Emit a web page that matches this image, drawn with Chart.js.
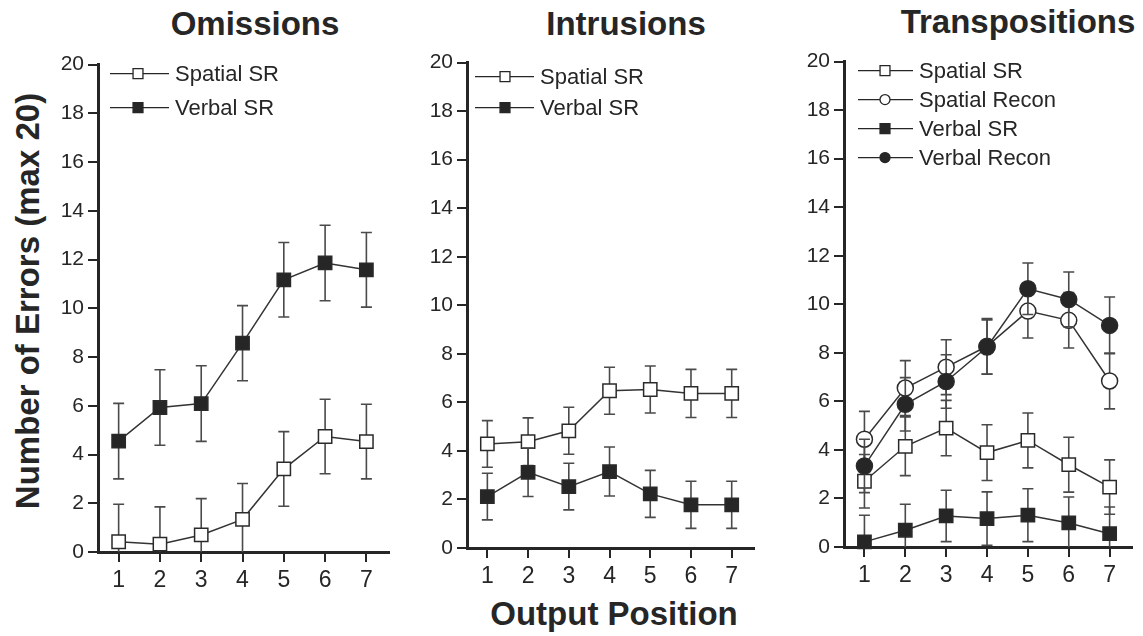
<!DOCTYPE html>
<html>
<head>
<meta charset="utf-8">
<script src="https://cdn.jsdelivr.net/npm/chart.js@4.4.0/dist/chart.umd.min.js"></script>
<style>
  body { margin: 0; background: #fff; width: 1143px; height: 636px; position: relative; overflow: hidden; }
  .title { position: absolute; font: bold 33px "Liberation Sans", Arial, sans-serif; color: #262626;
           line-height: 33px; white-space: nowrap; transform: translateX(-50%); }
  #ytitle { position: absolute; left: 28px; top: 301px; font: bold 33px "Liberation Sans", Arial, sans-serif;
            color: #262626; white-space: nowrap; transform: translate(-50%, -50%) rotate(-90deg); }
  canvas { position: absolute; }
</style>
</head>
<body>
<div class="title" style="left:255px; top:7px;">Omissions</div>
<div class="title" style="left:626px; top:7px;">Intrusions</div>
<div class="title" style="left:1018px; top:5px;">Transpositions</div>
<div id="ytitle">Number of Errors (max 20)</div>
<div class="title" style="left:614px; top:597px;">Output Position</div>

<canvas id="omissions" width="362" height="554" style="left:38px; top:48px;"></canvas>
<canvas id="intrusions" width="358" height="552" style="left:407px; top:46px;"></canvas>
<canvas id="transpositions" width="359" height="552" style="left:784px; top:45px;"></canvas>

<script>
const positions = [1, 2, 3, 4, 5, 6, 7];

// Omissions
const omSpatialSR = [0.42, 0.32, 0.7, 1.34, 3.41, 4.74, 4.53];
const omSpatialSRErr = [1.54, 1.53, 1.49, 1.47, 1.53, 1.53, 1.53];
const omVerbalSR = [4.55, 5.93, 6.09, 8.57, 11.17, 11.86, 11.58];
const omVerbalSRErr = [1.55, 1.55, 1.55, 1.54, 1.53, 1.55, 1.53];

// Intrusions
const inSpatialSR = [4.29, 4.38, 4.83, 6.48, 6.53, 6.37, 6.37];
const inSpatialSRErr = [0.96, 0.98, 0.97, 0.97, 0.97, 0.99, 0.99];
const inVerbalSR = [2.12, 3.12, 2.53, 3.15, 2.23, 1.78, 1.78];
const inVerbalSRErr = [0.96, 1.0, 0.96, 1.01, 0.97, 0.97, 0.97];

// Transpositions
const trSpatialSR = [2.71, 4.15, 4.9, 3.89, 4.39, 3.39, 2.47];
const trSpatialSRErr = [1.1, 1.21, 1.14, 1.15, 1.13, 1.13, 1.12];
const trSpatialRecon = [4.44, 6.55, 7.41, 8.27, 9.72, 9.34, 6.84];
const trSpatialReconErr = [1.15, 1.13, 1.13, 1.14, 1.11, 1.14, 1.15];
const trVerbalSR = [0.21, 0.69, 1.28, 1.17, 1.31, 0.99, 0.55];
const trVerbalSRErr = [1.1, 1.07, 1.06, 1.1, 1.09, 1.07, 1.1];
const trVerbalRecon = [3.34, 5.88, 6.82, 8.24, 10.64, 10.2, 9.13];
const trVerbalReconErr = [1.1, 1.1, 1.1, 1.12, 1.06, 1.13, 1.17];

const INK = "#262626";
const TICK_FONT = "'Liberation Sans Narrow', 'Liberation Sans', Arial, sans-serif";

// error bars are drawn just before each dataset so its own markers sit on top
const errorBars = {
  id: "errorBars",
  beforeDatasetDraw(chart, args) {
    const ds = chart.data.datasets[args.index];
    if (!ds.errors) return;
    const { ctx, chartArea, scales } = chart;
    ctx.save();
    ctx.beginPath();
    ctx.rect(chartArea.left, chartArea.top - 30, chartArea.width + 30, chartArea.height + 30);
    ctx.clip();
    ctx.strokeStyle = "#4a4a4a";
    ctx.lineWidth = 1.6;
    ds.data.forEach((p, i) => {
      const px = scales.x.getPixelForValue(p.x);
      const top = scales.y.getPixelForValue(p.y + ds.errors[i]);
      const bot = scales.y.getPixelForValue(p.y - ds.errors[i]);
      ctx.beginPath();
      ctx.moveTo(px, top);
      ctx.lineTo(px, bot);
      ctx.moveTo(px - 5.5, top);
      ctx.lineTo(px + 5.5, top);
      ctx.moveTo(px - 5.5, bot);
      ctx.lineTo(px + 5.5, bot);
      ctx.stroke();
    });
    ctx.restore();
  },
};

// legend in the style of the figure: line - marker - line, then the label
const panelLegend = {
  id: "panelLegend",
  afterDraw(chart, args, opts) {
    const { ctx, chartArea } = chart;
    const x0 = chartArea.left;
    ctx.save();
    chart.data.datasets.forEach((ds, i) => {
      const y = chartArea.top + opts.rows[i];
      ctx.strokeStyle = INK;
      ctx.lineWidth = 1.3;
      ctx.beginPath();
      ctx.moveTo(x0 + opts.lineStart, y);
      ctx.lineTo(x0 + opts.lineEnd, y);
      ctx.stroke();
      ctx.fillStyle = ds.pointBackgroundColor;
      ctx.strokeStyle = INK;
      ctx.lineWidth = 1.3;
      Chart.helpers.drawPoint(
        ctx,
        { pointStyle: ds.pointStyle, radius: ds.pointStyle === "rect" ? 7 : 5, rotation: 0, borderWidth: 1.3 },
        x0 + opts.marker,
        y
      );
      ctx.fillStyle = INK;
      ctx.font = "22px 'Liberation Sans', Arial, sans-serif";
      ctx.textBaseline = "middle";
      ctx.fillText(ds.label, x0 + opts.textX, y + 1);
    });
    ctx.restore();
  },
};

function series(label, values, errors, pointStyle, filled, order) {
  return {
    label,
    data: positions.map((x, i) => ({ x, y: values[i] })),
    errors,
    order,
    borderColor: "#333",
    borderWidth: 1.5,
    pointStyle,
    pointRadius: pointStyle === "rect" ? 9.4 : 8,
    pointBorderWidth: 1.5,
    pointBorderColor: "#2a2a2a",
    pointBackgroundColor: filled ? "#262626" : "#ffffff",
    tension: 0,
    clip: false,
  };
}

function makePanel(id, datasets, legend, padRight) {
  new Chart(document.getElementById(id), {
    type: "line",
    data: { datasets },
    plugins: [errorBars, panelLegend],
    options: {
      responsive: false,
      animation: false,
      events: [],
      layout: { padding: { top: 16, right: padRight, left: 0, bottom: 0 } },
      plugins: {
        legend: { display: false },
        tooltip: { enabled: false },
        panelLegend: legend,
      },
      scales: {
        x: {
          type: "linear",
          min: 0.5,
          max: 7.55,
          afterBuildTicks: (scale) => {
            scale.ticks = positions.map((v) => ({ value: v }));
          },
          afterFit: (scale) => {
            scale.height = 50;
          },
          border: { display: true, width: 3, color: INK },
          grid: { drawOnChartArea: false, tickLength: 10, lineWidth: 2, color: INK },
          ticks: { color: INK, padding: 5, font: { family: TICK_FONT, size: 23 } },
        },
        y: {
          min: 0,
          max: 20,
          ticks: { stepSize: 2, color: INK, padding: 4, font: { family: TICK_FONT, size: 21 } },
          afterFit: (scale) => {
            scale.width = 60;
          },
          border: { display: true, width: 3, color: INK },
          grid: { drawOnChartArea: false, tickLength: 10, lineWidth: 2, color: INK },
        },
      },
    },
  });
}

makePanel(
  "omissions",
  [
    series("Spatial SR", omSpatialSR, omSpatialSRErr, "rect", false, 2),
    series("Verbal SR", omVerbalSR, omVerbalSRErr, "rect", true, 1),
  ],
  { lineStart: 12, marker: 40, lineEnd: 71, textX: 77, rows: [9, 43] },
  2
);

makePanel(
  "intrusions",
  [
    series("Spatial SR", inSpatialSR, inSpatialSRErr, "rect", false, 2),
    series("Verbal SR", inVerbalSR, inVerbalSRErr, "rect", true, 1),
  ],
  { lineStart: 8, marker: 38, lineEnd: 67, textX: 73, rows: [14, 45] },
  2
);

makePanel(
  "transpositions",
  [
    series("Spatial SR", trSpatialSR, trSpatialSRErr, "rect", false, 4),
    series("Spatial Recon", trSpatialRecon, trSpatialReconErr, "circle", false, 3),
    series("Verbal SR", trVerbalSR, trVerbalSRErr, "rect", true, 2),
    series("Verbal Recon", trVerbalRecon, trVerbalReconErr, "circle", true, 1),
  ],
  { lineStart: 14, marker: 41, lineEnd: 69, textX: 75, rows: [9, 38, 67, 96] },
  0
);
</script>
</body>
</html>
